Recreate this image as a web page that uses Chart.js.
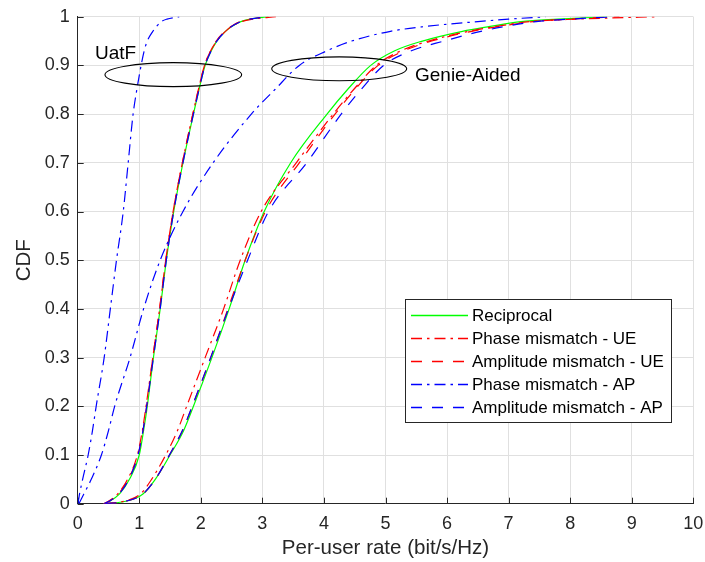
<!DOCTYPE html>
<html>
<head>
<meta charset="utf-8">
<script src="https://cdn.jsdelivr.net/npm/chart.js@4/dist/chart.umd.min.js"></script>
<style>
  html, body { margin: 0; padding: 0; background: #fff; }
  #wrap { width: 705px; height: 562px; }
</style>
</head>
<body>
<div id="wrap"><canvas id="cdf" width="705" height="562"></canvas></div>
<script>
// CDF levels shared by every curve, and the per-user rate reached at each level
const cdfLevels = [0, 0.005, 0.02, 0.05, 0.1, 0.15, 0.2, 0.3, 0.4, 0.5, 0.6, 0.7, 0.8, 0.85, 0.9, 0.93, 0.95, 0.97, 0.98, 0.99, 0.995, 1];

// Use-and-then-Forget (UatF) bound
const uatfReciprocal = [0.42, 0.52, 0.68, 0.84, 1.00, 1.07, 1.13, 1.23, 1.34, 1.44, 1.56, 1.71, 1.88, 1.97, 2.07, 2.17, 2.26, 2.40, 2.50, 2.65, 2.80, 3.10];
const uatfPhaseUE    = [0.42, 0.50, 0.65, 0.81, 0.97, 1.05, 1.11, 1.22, 1.33, 1.43, 1.55, 1.70, 1.87, 1.96, 2.06, 2.16, 2.26, 2.40, 2.50, 2.66, 2.85, 3.22];
const uatfAmpUE      = [0.42, 0.51, 0.66, 0.82, 0.98, 1.06, 1.12, 1.22, 1.33, 1.43, 1.55, 1.70, 1.87, 1.96, 2.06, 2.16, 2.25, 2.39, 2.49, 2.64, 2.80, 3.05];
const uatfPhaseAP    = [0.00, 0.01, 0.03, 0.08, 0.17, 0.24, 0.30, 0.43, 0.53, 0.63, 0.74, 0.82, 0.90, 0.96, 1.03, 1.08, 1.13, 1.22, 1.28, 1.36, 1.45, 1.65];
const uatfAmpAP      = [0.42, 0.51, 0.67, 0.83, 0.98, 1.06, 1.12, 1.23, 1.34, 1.44, 1.56, 1.71, 1.88, 1.97, 2.07, 2.17, 2.26, 2.40, 2.50, 2.65, 2.80, 3.10];

// Genie-aided rates
const genieReciprocal = [0.45, 0.78, 1.06, 1.26, 1.50, 1.72, 1.88, 2.18, 2.46, 2.72, 3.03, 3.46, 4.05, 4.38, 4.76, 5.15, 5.60, 6.25, 6.70, 7.20, 7.80, 8.60];
const geniePhaseUE    = [0.45, 0.75, 1.02, 1.20, 1.43, 1.62, 1.77, 2.07, 2.37, 2.64, 2.98, 3.55, 4.15, 4.48, 4.85, 5.25, 5.70, 6.35, 6.80, 7.35, 8.10, 9.43];
const genieAmpUE      = [0.45, 0.78, 1.06, 1.26, 1.49, 1.70, 1.86, 2.16, 2.44, 2.72, 3.05, 3.60, 4.18, 4.50, 4.88, 5.30, 5.75, 6.40, 6.85, 7.40, 8.00, 8.80];
const geniePhaseAP    = [0.02, 0.04, 0.10, 0.22, 0.385, 0.50, 0.60, 0.85, 1.07, 1.34, 1.71, 2.20, 2.82, 3.20, 3.60, 4.05, 4.45, 5.08, 5.65, 6.50, 7.00, 7.60];
const genieAmpAP      = [0.45, 0.78, 1.06, 1.26, 1.49, 1.70, 1.86, 2.16, 2.45, 2.76, 3.10, 3.72, 4.28, 4.60, 4.97, 5.42, 5.95, 6.55, 6.95, 7.45, 8.00, 8.70];

const seriesNames = ['Reciprocal', 'Phase mismatch - UE', 'Amplitude mismatch - UE', 'Phase mismatch - AP', 'Amplitude mismatch - AP'];
const xTicks = [0, 1, 2, 3, 4, 5, 6, 7, 8, 9, 10];
const yTicks = [0, 0.1, 0.2, 0.3, 0.4, 0.5, 0.6, 0.7, 0.8, 0.9, 1];

// Group annotations: ellipse centre / half-axes in data units, and label anchors
const groupNames = ['UatF', 'Genie-Aided'];
const ellipseCenterX = [1.553, 4.248];
const ellipseCenterY = [0.881, 0.893];
const ellipseHalfX = [1.11, 1.096];
const ellipseHalfY = [0.0246, 0.0246];
const labelX = [0.281, 5.479];
const labelY = [0.913, 0.868];

const styles = [
  { color: '#00ff00', dash: [] },
  { color: '#ff0000', dash: [11, 5, 2.5, 5] },
  { color: '#ff0000', dash: [11, 10] },
  { color: '#0000ff', dash: [11, 5, 2.5, 5] },
  { color: '#0000ff', dash: [11, 10] }
];

const toPoints = rates => rates.map((r, i) => ({ x: r, y: cdfLevels[i] }));
const curveSets = [
  [uatfReciprocal, genieReciprocal],
  [uatfPhaseUE, geniePhaseUE],
  [uatfAmpUE, genieAmpUE],
  [uatfPhaseAP, geniePhaseAP],
  [uatfAmpAP, genieAmpAP]
];

const datasets = [];
curveSets.forEach((pair, s) => {
  pair.forEach((rates, g) => {
    datasets.push({
      label: seriesNames[s] + (g === 0 ? ' (UatF)' : ' (Genie-Aided)'),
      data: toPoints(rates),
      showLine: true,
      borderColor: styles[s].color,
      backgroundColor: styles[s].color,
      borderWidth: 1.2,
      borderDash: styles[s].dash,
      pointRadius: 0,
      cubicInterpolationMode: 'monotone',
      fill: false,
      order: 10 - s
    });
  });
});

const AXIS = '#262626';
const FONT = "'Liberation Sans', Arial, Helvetica, sans-serif";

// Inward tick marks on the left and bottom axes
const innerTicks = {
  id: 'innerTicks',
  beforeDatasetsDraw(chart) {
    const { ctx, chartArea: a, scales: { x, y } } = chart;
    ctx.save();
    ctx.strokeStyle = AXIS;
    ctx.lineWidth = 1;
    ctx.beginPath();
    xTicks.forEach(v => {
      const px = Math.round(x.getPixelForValue(v)) + 0.5;
      ctx.moveTo(px, a.bottom);
      ctx.lineTo(px, a.bottom - 6);
    });
    yTicks.forEach(v => {
      const py = Math.round(y.getPixelForValue(v)) + 0.5;
      ctx.moveTo(a.left, py);
      ctx.lineTo(a.left + 6, py);
    });
    ctx.stroke();
    ctx.restore();
  }
};

// Ellipses grouping the curves, with their group names
const groupMarks = {
  id: 'groupMarks',
  afterDatasetsDraw(chart) {
    const { ctx, scales: { x, y } } = chart;
    ctx.save();
    ctx.strokeStyle = '#000';
    ctx.lineWidth = 1.1;
    groupNames.forEach((name, i) => {
      const cx = x.getPixelForValue(ellipseCenterX[i]);
      const cy = y.getPixelForValue(ellipseCenterY[i]);
      const rx = x.getPixelForValue(ellipseCenterX[i] + ellipseHalfX[i]) - cx;
      const ry = cy - y.getPixelForValue(ellipseCenterY[i] + ellipseHalfY[i]);
      ctx.beginPath();
      ctx.ellipse(cx, cy, rx, ry, 0, 0, Math.PI * 2);
      ctx.stroke();
      ctx.fillStyle = '#000';
      ctx.font = '19px ' + FONT;
      ctx.textAlign = 'left';
      ctx.textBaseline = 'alphabetic';
      ctx.fillText(name, x.getPixelForValue(labelX[i]), y.getPixelForValue(labelY[i]));
    });
    ctx.restore();
  }
};

// Boxed legend inside the lower right of the plot
const boxLegend = {
  id: 'boxLegend',
  afterDatasetsDraw(chart) {
    const { ctx, chartArea: a } = chart;
    const boxW = 266, rowH = 23;
    const right = Math.round(a.right - 22), bottom = Math.round(a.bottom - 82);
    const boxH = 123;
    const left = right - boxW, top = bottom - boxH;
    ctx.save();
    ctx.fillStyle = '#fff';
    ctx.fillRect(left, top, boxW, boxH);
    ctx.strokeStyle = AXIS;
    ctx.lineWidth = 1;
    ctx.strokeRect(left + 0.5, top + 0.5, boxW, boxH);
    ctx.font = '17px ' + FONT;
    ctx.textBaseline = 'middle';
    ctx.textAlign = 'left';
    seriesNames.forEach((name, i) => {
      const cy = top + 16 + i * rowH + 0.5;
      ctx.strokeStyle = styles[i].color;
      ctx.lineWidth = 1.3;
      ctx.setLineDash(styles[i].dash);
      ctx.beginPath();
      ctx.moveTo(left + 6, cy);
      ctx.lineTo(left + 63, cy);
      ctx.stroke();
      ctx.setLineDash([]);
      ctx.fillStyle = '#000';
      ctx.fillText(name, left + 67, cy + 1);
    });
    ctx.restore();
  }
};

new Chart(document.getElementById('cdf'), {
  type: 'scatter',
  data: { datasets },
  options: {
    responsive: false,
    animation: false,
    devicePixelRatio: 1,
    layout: { padding: { top: 16.7, right: 11.7, bottom: 0, left: 0 } },
    plugins: { legend: { display: false }, tooltip: { enabled: false } },
    scales: {
      x: {
        type: 'linear',
        min: 0, max: 10,
        afterBuildTicks: s => { s.ticks = xTicks.map(v => ({ value: v })); },
        afterFit: s => { s.height = 58.3; s.paddingLeft = 0; s.paddingRight = 0; },
        grid: { color: '#e0e0e0', lineWidth: 1, drawTicks: false },
        border: { display: true, color: AXIS, width: 1 },
        ticks: { color: AXIS, font: { family: FONT, size: 18 }, padding: 10, maxRotation: 0 },
        title: { display: true, text: 'Per-user rate (bit/s/Hz)', color: AXIS, font: { family: FONT, size: 20.5 }, padding: { top: 0, bottom: 1 } }
      },
      y: {
        type: 'linear',
        min: 0, max: 1,
        afterBuildTicks: s => { s.ticks = yTicks.map(v => ({ value: v })); },
        afterFit: s => { s.width = 77.7; s.paddingTop = 0; s.paddingBottom = 0; },
        grid: { color: '#e0e0e0', lineWidth: 1, drawTicks: false },
        border: { display: true, color: AXIS, width: 1 },
        ticks: { color: AXIS, font: { family: FONT, size: 18 }, padding: 8, callback: v => String(Math.round(v * 10) / 10) },
        title: { display: true, text: 'CDF', color: AXIS, font: { family: FONT, size: 20.5 }, padding: { top: 12, bottom: 0 } }
      }
    }
  },
  plugins: [innerTicks, groupMarks, boxLegend]
});
</script>
</body>
</html>
